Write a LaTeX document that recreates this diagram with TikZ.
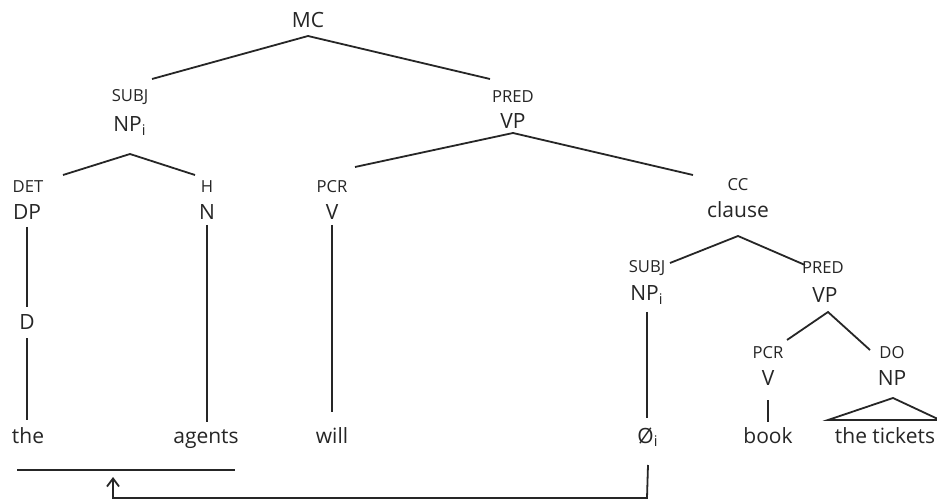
\documentclass[tikz,border=0pt]{standalone}
\usepackage{fontspec}
\setmainfont{Open Sans}
\usetikzlibrary{arrows.meta}
\begin{document}
\begin{tikzpicture}[x=0.5pt,y=-0.5pt,
  lab/.style={inner sep=0pt,font=\fontsize{10.5}{12}\selectfont,text=black!85},
  fn/.style={inner sep=0pt,font=\fontsize{8.3}{9}\selectfont,text=black!85},
  br/.style={line width=0.9pt,draw=black!85}]
\path[use as bounding box,fill=white] (0,0) rectangle (937,502);
% labels
\node[lab] (mc) at (308,20) {MC};
\node[fn] (f1) at (130,97) {SUBJ};
\node[lab] (np1) at (130,126) {NP\textsubscript{i}};
\node[fn] (f2) at (513,97) {PRED};
\node[lab] (vp1) at (513,121) {VP};
\node[fn] (f3) at (28,187) {DET};
\node[lab] (dp) at (27,212) {DP};
\node[fn] (f4) at (207,187) {H};
\node[lab] (n) at (207,212) {N};
\node[fn] (f5) at (332,187) {PCR};
\node[lab] (v1) at (332,212) {V};
\node[fn] (f6) at (738,185) {CC};
\node[lab] (cl) at (738,210) {clause};
\node[lab] (d) at (27,322) {D};
\node[fn] (f7) at (647,268) {SUBJ};
\node[lab] (np2) at (647,295) {NP\textsubscript{i}};
\node[fn] (f8) at (823,268) {PRED};
\node[lab] (vp2) at (825,295) {VP};
\node[fn] (f9) at (768,353) {PCR};
\node[lab] (v2) at (768,378) {V};
\node[fn] (f10) at (892,353) {DO};
\node[lab] (np3) at (892,378) {NP};
\node[lab,anchor=base] (the) at (28,443) {the};
\node[lab,anchor=base] (agents) at (206,443) {agents};
\node[lab,anchor=base] (will) at (332,443) {will};
\node[lab,anchor=base] (zero) at (648,443) {Ø\textsubscript{i}};
\node[lab,anchor=base] (book) at (768,443) {book};
\node[lab,anchor=base] (tick) at (885,443) {the tickets};
% coordinates
\coordinate (mcb) at (308,36);
\coordinate (l1) at (152,79);
\coordinate (r1) at (490,79);
\coordinate (npb) at (130,154);
\coordinate (l2) at (63,175);
\coordinate (r2) at (195,175);
\coordinate (vpb) at (513,133);
\coordinate (l3) at (355,167);
\coordinate (r3) at (693,175);
\coordinate (clb) at (738,236);
\coordinate (l4) at (670,263);
\coordinate (r4) at (805,265);
\coordinate (vp2b) at (828,312);
\coordinate (l5) at (787,340);
\coordinate (r5) at (870,350);
\coordinate (tri) at (893,398);
\coordinate (tl) at (828,420);
\coordinate (tr) at (940,420);
\coordinate (ul) at (17,470);
\coordinate (ur) at (235,470);
\coordinate (arr) at (113,477);
\coordinate (corner) at (647,498);
% branches
\draw[br] (l1) -- (mcb) -- (r1);
\draw[br] (l2) -- (npb) -- (r2);
\draw[br] (l3) -- (vpb) -- (r3);
\draw[br] (l4) -- (clb) -- (r4);
\draw[br] (l5) -- (vp2b) -- (r5);
\draw[br] (dp.south |- 0,227) -- (d.south |- 0,307);
\draw[br] (d.south |- 0,338) -- (d.south |- 0,420);
\draw[br] (n.south |- 0,225) -- (n.south |- 0,422);
\draw[br] (v1.south |- 0,225) -- (v1.south |- 0,412);
\draw[br] (np2.south |- 0,312) -- (np2.south |- 0,418);
\draw[br] (v2.south |- 0,400) -- (v2.south |- 0,422);
\draw[br] (tl) -- (tri) -- (tr) -- cycle;
\draw[br] (ul) -- (ur);
\draw[br,-{Straight Barb[length=4pt,width=6pt]}] (zero.south |- 0,465) -- (corner) -| (arr);
\end{tikzpicture}
\end{document}
